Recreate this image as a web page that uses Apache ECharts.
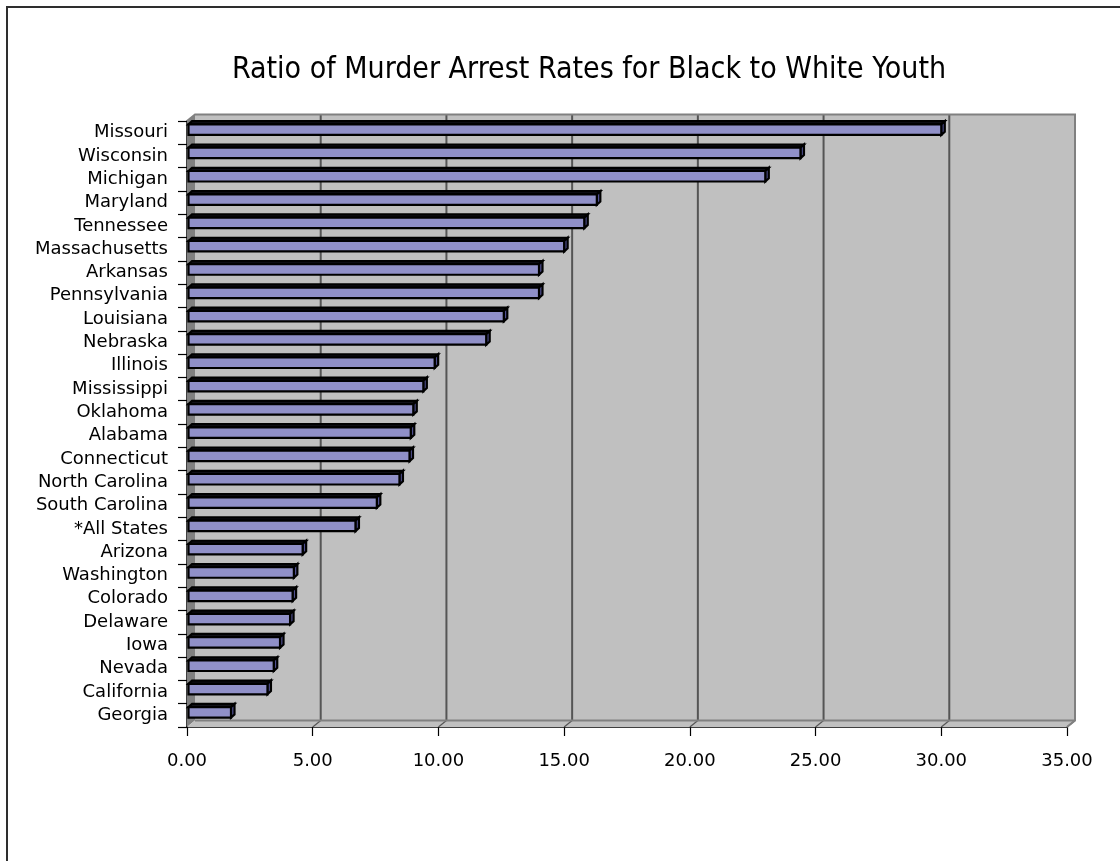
<!DOCTYPE html>
<html><head><meta charset="utf-8">
<script src="https://cdn.jsdelivr.net/npm/echarts@6/dist/echarts.min.js"></script>
<style>html,body{margin:0;padding:0;background:#fff}#c{width:1120px;height:861px}</style>
</head><body><div id="c"></div>
<script>
// ---- data (top to bottom as shown) ----
const categories = ["Missouri","Wisconsin","Michigan","Maryland","Tennessee","Massachusetts","Arkansas","Pennsylvania","Louisiana","Nebraska","Illinois","Mississippi","Oklahoma","Alabama","Connecticut","North Carolina","South Carolina","*All States","Arizona","Washington","Colorado","Delaware","Iowa","Nevada","California","Georgia"];
const values = [30.0,24.4,23.0,16.3,15.8,15.0,14.0,14.0,12.6,11.9,9.85,9.4,9.0,8.9,8.85,8.45,7.55,6.7,4.6,4.25,4.2,4.1,3.7,3.45,3.2,1.75];
const xTicks = [0,5,10,15,20,25,30,35];
const chartTitle = "Ratio of Murder Arrest Rates for Black to White Youth";

// ---- 3D styling ----
const DX = 8, DY = -6.5;      // wall depth
const BDX = 3.5, BDY = -3.2;  // bar depth
const BAR_H = 10.5, BAR_SHIFT = -3;

function renderWalls(params, api) {
  const cs = params.coordSys;
  const x = cs.x, y = cs.y, w = cs.width, h = cs.height;
  const ch = [];
  ch.push({type:'rect', shape:{x:x+DX, y:y+DY, width:w, height:h}, style:{fill:'#c0c0c0'}});
  ch.push({type:'polygon', shape:{points:[[x,y],[x+DX,y+DY],[x+DX,y+h+DY],[x,y+h]]}, style:{fill:'#808080'}});
  ch.push({type:'polygon', shape:{points:[[x,y+h],[x+DX,y+h+DY],[x+w+DX,y+h+DY],[x+w,y+h]]}, style:{fill:'#c0c0c0'}});
  xTicks.forEach(function(t){
    if (t === 0) return;
    const px = api.coord([t, 0])[0];
    if (t !== xTicks[xTicks.length-1]) {
      ch.push({type:'line', shape:{x1:px+DX, y1:y+DY, x2:px+DX, y2:y+h+DY}, style:{stroke:'#555555', lineWidth:2}});
    }
    ch.push({type:'line', shape:{x1:px, y1:y+h, x2:px+DX, y2:y+h+DY}, style:{stroke:'#555555', lineWidth:1.2}});
  });
  ch.push({type:'polyline', shape:{points:[[x,y],[x+DX,y+DY],[x+w+DX,y+DY],[x+w+DX,y+h+DY],[x+w,y+h]]}, style:{stroke:'#808080', lineWidth:2, fill:null}});
  ch.push({type:'line', shape:{x1:x+DX, y1:y+h+DY, x2:x+w+DX, y2:y+h+DY}, style:{stroke:'#808080', lineWidth:2}});
  return {type:'group', children:ch};
}

function renderBar(params, api) {
  const v = api.value(0), i = api.value(1);
  const p0 = api.coord([0, i]), p1 = api.coord([v, i]);
  const cy = p0[1] + BAR_SHIFT;
  const top = cy - BAR_H/2, bot = cy + BAR_H/2;
  const x0 = p0[0] + 1.5, x1 = p1[0];
  const st = {stroke:'#000', lineWidth:2.2, lineJoin:'miter'};
  return {type:'group', children:[
    {type:'polygon', shape:{points:[[x0,top],[x0+BDX,top+BDY],[x1+BDX,top+BDY],[x1,top]]}, style:Object.assign({fill:'#111118'}, st)},
    {type:'polygon', shape:{points:[[x1,top],[x1+BDX,top+BDY],[x1+BDX,bot+BDY],[x1,bot]]}, style:Object.assign({fill:'#50508f'}, st)},
    {type:'rect', shape:{x:x0, y:top, width:x1-x0, height:BAR_H}, style:Object.assign({fill:'#9090c8'}, st)}
  ]};
}

const chart = echarts.init(document.getElementById('c'), null, {renderer:'canvas'});
chart.setOption({
  animation:false,
  backgroundColor:'#ffffff',
  graphic:[
    {type:'rect', shape:{x:7, y:7, width:1200, height:1000}, style:{fill:null, stroke:'#2e2e2e', lineWidth:2}, silent:true, z:-10},
    {type:'text', x:589, y:70, style:{text:chartTitle, fontSize:30, fontFamily:"'DejaVu Sans Condensed','Liberation Sans Narrow',sans-serif", fill:'#000', align:'center', verticalAlign:'middle'}}
  ],
  grid:{left:187, right:53, top:121, bottom:134, containLabel:false},
  xAxis:{
    type:'value', min:0, max:35, interval:5,
    axisLine:{show:true, onZero:false, lineStyle:{color:'#000', width:1.5}},
    axisTick:{show:true, length:9, lineStyle:{color:'#000', width:1.2}},
    splitLine:{show:false},
    axisLabel:{margin:25, fontSize:18, color:'#000', fontFamily:"'DejaVu Sans',sans-serif", formatter:function(v){return v.toFixed(2);}}
  },
  yAxis:{
    type:'category', data:categories, inverse:true,
    axisLine:{show:true, lineStyle:{color:'#000', width:1.5}},
    axisTick:{show:true, length:9, interval:0, lineStyle:{color:'#000', width:1.2}},
    axisLabel:{margin:19, interval:0, fontSize:18, color:'#000', fontFamily:"'DejaVu Sans',sans-serif"},
    splitLine:{show:false}
  },
  series:[
    {type:'custom', name:'walls', renderItem:renderWalls, data:[[0,0]], clip:false, silent:true, z:1},
    {type:'custom', name:'ratio', renderItem:renderBar, encode:{x:0, y:1}, data:values.map(function(v,i){return [v,i];}), clip:false, silent:true, z:2}
  ]
});
</script></body></html>
